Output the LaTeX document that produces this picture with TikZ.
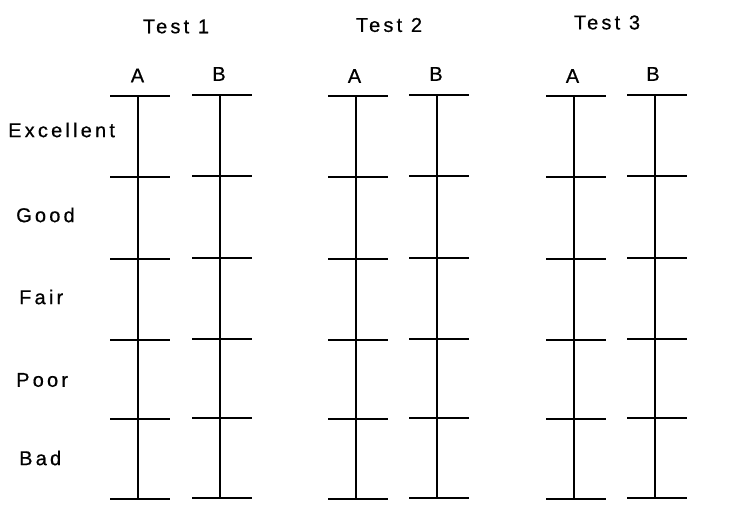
\documentclass[tikz,border=0pt]{standalone}
\usepackage{fontspec}
\setmainfont{Liberation Sans}[FakeBold=0.6]
\newfontfamily\spaced[LetterSpace=16,FakeBold=0.6]{Liberation Sans}
\begin{document}
\begin{tikzpicture}[x=1pt,y=-1pt,
  stem/.style={line width=1.8pt},
  tick/.style={line width=2.6pt},
  title/.style={font=\spaced\fontsize{20}{22}\selectfont,inner sep=0pt},
  grade/.style={font=\spaced\fontsize{20}{22}\selectfont,inner sep=0pt,anchor=west},
  col/.style={font=\fontsize{20}{22}\selectfont,inner sep=0pt}]
\useasboundingbox (0,0) rectangle (729,526);
% titles
\node[title] (t1) at (176,26.5) {Test 1};
\node[title] (t2) at (389,25) {Test 2};
\node[title] (t3) at (607,22.5) {Test 3};
% column letters
\node[col] (la1) at (137.5,75.5) {A};
\node[col] (lb1) at (219,74) {B};
\node[col] (la2) at (354.5,76) {A};
\node[col] (lb2) at (436,74) {B};
\node[col] (la3) at (572.5,76) {A};
\node[col] (lb3) at (653,74) {B};
% grades
\node[grade] (g1) at (8,130) {Excellent};
\node[grade] (g2) at (16,215) {Good};
\node[grade] (g3) at (19,297) {Fair};
\node[grade] (g4) at (16,380) {Poor};
\node[grade] (g5) at (19,458) {Bad};
% scales
\foreach \cx/\dy in {138/0, 220/-1, 356/0, 437/-1, 574/0, 655/-1}{
  \draw[stem] (\cx,96+\dy) -- (\cx,499+\dy);
  \foreach \ty in {96,177,259,340,419,499}{
    \draw[tick] (\cx-28,\ty+\dy) -- (\cx+32,\ty+\dy);
  }
}
\end{tikzpicture}
\end{document}
